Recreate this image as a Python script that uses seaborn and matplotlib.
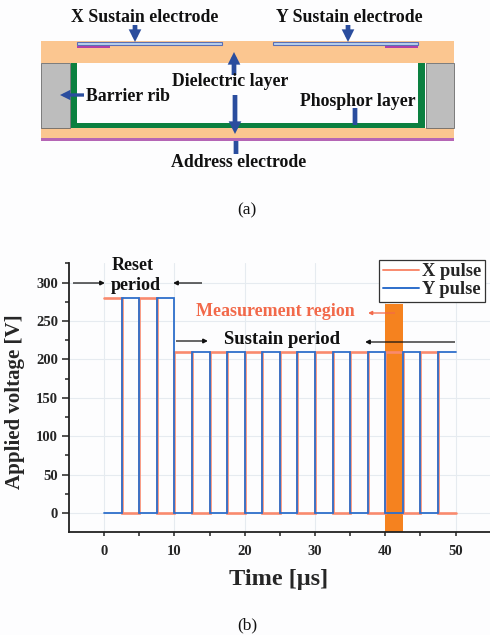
import matplotlib
matplotlib.use("Agg")
import matplotlib.pyplot as plt
from matplotlib.patches import Rectangle
import pandas as pd
import seaborn as sns

# ---- data ----
time_us = [0, 2.5, 5, 7.5, 10, 12.5, 15, 17.5, 20, 22.5, 25, 27.5, 30, 32.5, 35, 37.5, 40, 42.5, 45, 47.5, 50]
x_pulse = [280, 0, 280, 0, 210, 0, 210, 0, 210, 0, 210, 0, 210, 0, 210, 0, 210, 0, 210, 0, 0]
y_pulse = [0, 280, 0, 280, 0, 210, 0, 210, 0, 210, 0, 210, 0, 210, 0, 210, 0, 210, 0, 210, 210]
region_start, region_end, region_top = 40, 42.5, 272
x_ticks = [0, 10, 20, 30, 40, 50]
y_ticks = [0, 50, 100, 150, 200, 250, 300]

BG = "#FDFDFE"
RED = "#F98A6E"
BLUE = "#2E6FCB"
ORANGE = "#F5821F"
NAVY = "#2A4D9E"
TAN = "#FBC690"

sns.set_theme(style="ticks")
plt.rcParams["font.family"] = ["Liberation Serif", "DejaVu Serif"]
plt.rcParams["font.weight"] = "bold"

W, H = 490, 635
fig = plt.figure(figsize=(W / 100, H / 100), dpi=100, facecolor=BG)

# ---- panel (b) ----
L, R, T, B = 69, 490, 263.3, 532.3
ax = fig.add_axes([L / W, 1 - B / H, (R - L) / W, (B - T) / H], facecolor=BG)
df = pd.concat([
    pd.DataFrame({"t": time_us, "v": x_pulse, "s": "X pulse"}),
    pd.DataFrame({"t": time_us, "v": y_pulse, "s": "Y pulse"}),
])
ax.axvspan(region_start, region_end, ymax=(region_top + 25) / 350, color=ORANGE, lw=0, zorder=1)
sns.lineplot(data=df, x="t", y="v", hue="s", palette={"X pulse": RED, "Y pulse": BLUE},
             estimator=None, sort=False, drawstyle="steps-post", ax=ax, zorder=3, linewidth=1.4)
for line, w in zip(ax.get_lines(), (1.9, 1.3)):
    line.set_linewidth(w)
    line.set_solid_joinstyle("miter")
ax.set_xlim(-5, 54.9)
ax.set_ylim(-25, 325)
ax.set_xticks(x_ticks)
ax.set_xticks([5, 15, 25, 35, 45], minor=True)
ax.set_yticks(y_ticks)
ax.set_yticks([25, 75, 125, 175, 225, 275, 325], minor=True)
ax.grid(True, which="major", color="#E6EBF0", lw=0.8, zorder=0)
ax.set_axisbelow(True)
ax.spines[["top", "right"]].set_visible(False)
ax.spines[["left", "bottom"]].set_linewidth(1.3)
ax.spines[["left", "bottom"]].set_color("#222222")
ax.tick_params(axis="y", which="major", length=5, width=1.1, color="#222222", labelsize=10.5, pad=3)
ax.tick_params(axis="x", which="major", length=3, width=1.1, color="#222222", labelsize=10.5, pad=6)
ax.tick_params(axis="both", which="minor", length=3, width=1.1, color="#222222")
for lab in ax.get_xticklabels() + ax.get_yticklabels():
    lab.set_fontweight("bold")
ax.set_xlabel("Time [μs]", fontsize=17.5, fontweight="bold", labelpad=8)
ax.set_ylabel("Applied voltage [V]", fontsize=15, fontweight="bold", labelpad=8)
ax.xaxis.label.set_x((279 - L) / (R - L))
ax.yaxis.label.set_y((B - 402) / (B - T))

handles, labels = ax.get_legend_handles_labels()
leg = ax.legend(handles, labels, loc="upper left",
                bbox_to_anchor=((379 - L) / (R - L), 1.013), frameon=True, fancybox=False,
                framealpha=1, edgecolor="#333333", fontsize=13.3,
                handlelength=1.95, handletextpad=0.2, labelspacing=0.05, borderpad=0.2, borderaxespad=0)
leg.get_frame().set_linewidth(0.9)
for t in leg.get_texts():
    t.set_fontweight("bold")

# ---- overlay in pixels: schematic (a) and chart notes ----
ov = fig.add_axes([0, 0, 1, 1], facecolor="none")
ov.set_xlim(0, W)
ov.set_ylim(H, 0)
ov.axis("off")


def rect(x0, y0, x1, y1, fc, ec="none", lw=0):
    ov.add_patch(Rectangle((x0, y0), x1 - x0, y1 - y0, facecolor=fc, edgecolor=ec, linewidth=lw))


rect(41, 41, 454, 63, TAN)
rect(41, 128, 454, 138, TAN)
rect(41, 138, 454, 140.5, "#B565B5")
rect(41, 63, 70, 128, "#BDBDBD", "#555555", 0.5)
rect(426, 63, 454, 128, "#BDBDBD", "#555555", 0.5)
rect(71, 63, 77, 128, "#0B8040")
rect(418, 63, 425, 128, "#0B8040")
rect(71, 123, 425, 128, "#0B8040")
rect(77, 42, 222, 45, "#BBD3EE", "#5A6FB5", 0.8)
rect(273, 42, 418, 45, "#BBD3EE", "#5A6FB5", 0.8)
rect(77, 45.5, 110, 48, "#B040A8")
rect(385, 45.5, 418, 48, "#B040A8")


def arrow(x0, y0, x1, y1, color=NAVY, lw=3.4, size=9, style="-|>"):
    ov.annotate("", xy=(x1, y1), xytext=(x0, y0),
                arrowprops=dict(arrowstyle=style, color=color, lw=lw, mutation_scale=size,
                                shrinkA=0, shrinkB=0, capstyle="butt", joinstyle="miter"))


arrow(135, 25, 135, 42)
arrow(348, 25, 348, 42)
arrow(234, 75, 234, 52)
arrow(235, 95, 235, 134)
arrow(84, 95, 60, 95, lw=2.4)
arrow(355, 108, 355, 125, style="-")
arrow(236, 154, 236, 141, style="-")


def label(x, y, s, size=12.8, color="#111111", weight="bold"):
    ov.text(x, y + 1.5, s, ha="center", va="center", fontsize=size, color=color, fontweight=weight)


label(145, 16, "X Sustain electrode")
label(349, 16, "Y Sustain electrode")
label(230, 80, "Dielectric layer")
label(128, 95, "Barrier rib")
label(358, 100, "Phosphor layer")
label(239, 161, "Address electrode")
label(247, 209, "(a)", size=12.5, weight="normal")
label(247, 624, "(b)", size=12.5, weight="normal")

label(133, 264, "Reset", size=13)
label(136, 284, "period", size=13)
label(282, 338, "Sustain period", size=13.5)
label(275, 310, "Measurement region", size=13, color="#F2694A")
arrow(73, 283, 105, 283, color="#111111", lw=0.9, size=7)
arrow(202, 283, 173, 283, color="#111111", lw=0.9, size=7)
arrow(176, 341, 208, 341, color="#111111", lw=0.9, size=7)
arrow(455, 342, 365, 342, color="#111111", lw=0.9, size=7)
arrow(395, 313, 368, 313, color="#F2694A", lw=0.9, size=6)

fig.savefig("out.png", dpi=100, facecolor=BG)
